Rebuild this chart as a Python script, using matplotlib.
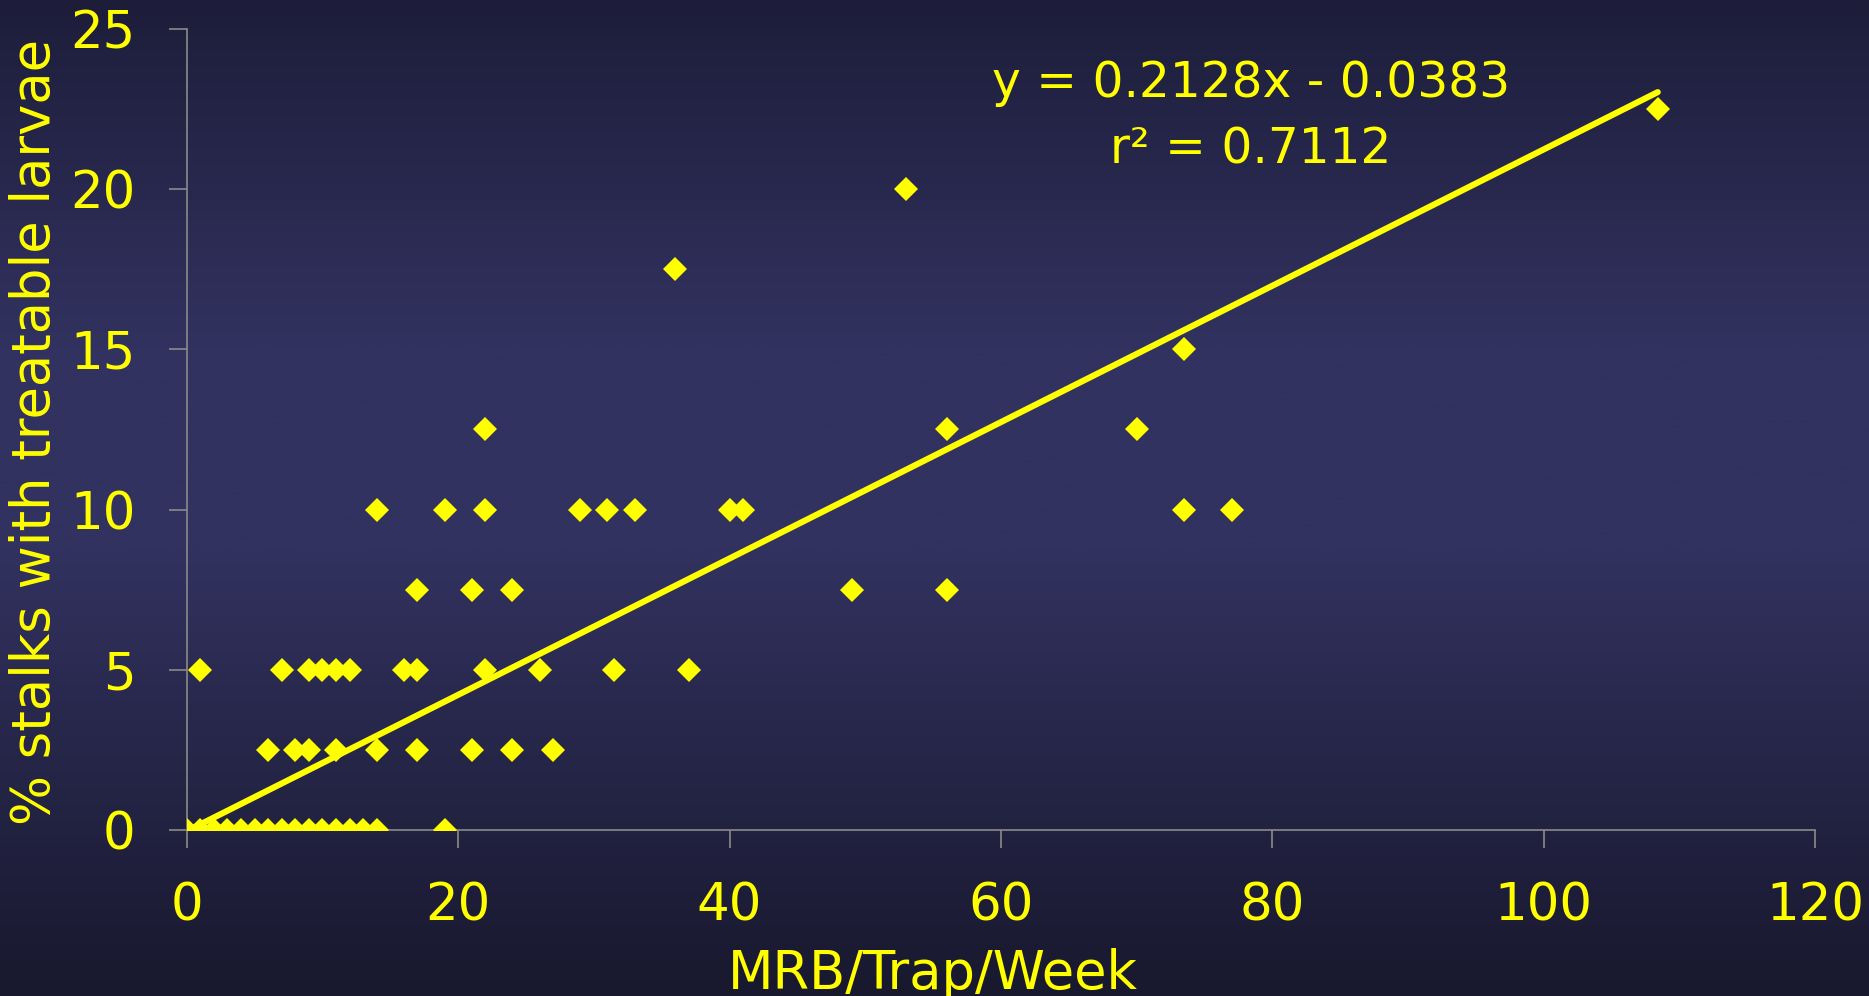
import numpy as np
import matplotlib
matplotlib.use("Agg")
import matplotlib.pyplot as plt

# MRB per trap per week vs % stalks with treatable larvae
mrb = [0, 1, 2, 3, 4, 5, 6, 7, 8, 9, 10, 11, 12, 13, 14, 19,
       6, 8, 9, 11, 14, 17, 21, 24, 27,
       1, 7, 9, 10, 11, 12, 16, 17, 22, 26, 31.5, 37,
       17, 21, 24, 49, 56,
       14, 19, 22, 29, 31, 33, 40, 41, 73.5, 77,
       22, 56, 70,
       73.5,
       36,
       53,
       108.4]
pct = [0] * 16 + [2.5] * 9 + [5] * 12 + [7.5] * 5 + [10] * 10 + [12.5] * 3 + [15, 17.5, 20, 22.5]

slope = 0.2128
intercept = -0.0383
r2 = 0.7112

yellow = "#FFFF00"
gray = "#8a8a8a"

fig = plt.figure(figsize=(18.69, 9.96), dpi=100)

# gradient background
bg = fig.add_axes([0, 0, 1, 1], zorder=-10)
rows = np.linspace(0, 1, 400)
stops = [0.0, 0.35, 0.55, 1.0]
r = np.interp(rows, stops, [29, 50, 50, 24])
g = np.interp(rows, stops, [29, 50, 50, 24])
b = np.interp(rows, stops, [58, 96, 96, 46])
grad = np.stack([r, g, b], axis=1)[:, None, :] / 255.0
bg.imshow(grad, aspect="auto", extent=[0, 1, 0, 1], origin="upper")
bg.axis("off")

ax = fig.add_axes([0.0999, 0.1667, 0.8713, 0.8042])
ax.set_facecolor("none")

ax.plot(mrb, pct, linestyle="none", marker="D", markersize=12.5,
        color=yellow, markeredgewidth=0, zorder=3)

xfit = np.array([min(mrb), max(mrb)])
ax.plot(xfit, slope * xfit + intercept, color=yellow, lw=4.4,
        solid_capstyle="round", zorder=4)

ax.set_xlim(0, 120)
ax.set_ylim(0, 25)
ax.set_xticks(range(0, 121, 20))
ax.set_yticks(range(0, 26, 5))

for s in ["top", "right"]:
    ax.spines[s].set_visible(False)
for s in ["left", "bottom"]:
    ax.spines[s].set_color(gray)
    ax.spines[s].set_linewidth(1.2)

ax.tick_params(axis="both", direction="out", length=13, width=1.2,
               color=gray, labelcolor=yellow, labelsize=37, pad=24)

ax.set_xlabel("MRB/Trap/Week", color=yellow, fontsize=38)
ax.xaxis.set_label_coords(0.458, -0.147)
ax.set_ylabel("% stalks with treatable larvae", color=yellow, fontsize=38)
ax.yaxis.set_label_coords(-0.077, 0.497)

ax.text(78.4, 23.3, f"y = {slope}x - {abs(intercept)}", color=yellow,
        fontsize=35, ha="center", va="center")
ax.text(78.4, 21.25, f"r² = {r2}", color=yellow,
        fontsize=35, ha="center", va="center")

fig.savefig("out.png", dpi=100)
